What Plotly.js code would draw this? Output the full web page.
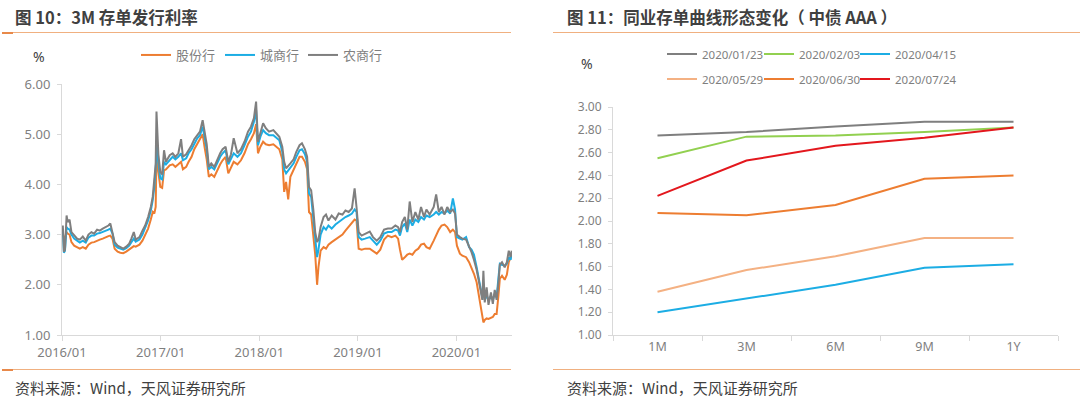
<!DOCTYPE html>
<html><head><meta charset="utf-8">
<script src="https://cdn.plot.ly/plotly-3.0.1.min.js"></script>
<style>html,body{margin:0;padding:0;background:#fff;}#chart{width:1080px;height:399px;}</style>
</head><body><div id="chart"></div>
<script>
// ---------- Left chart: 3M NCD issuance rates ----------
const dates = ['2016-01-04','2016-01-08','2016-01-12','2016-01-18','2016-01-22','2016-01-29','2016-02-05','2016-02-15','2016-02-26','2016-03-07','2016-03-18','2016-03-29','2016-04-08','2016-04-19','2016-04-29','2016-05-10','2016-05-20','2016-05-31','2016-06-10','2016-06-21','2016-06-28','2016-07-06','2016-07-14','2016-07-25','2016-08-04','2016-08-15','2016-08-26','2016-09-06','2016-09-14','2016-09-23','2016-09-30','2016-10-14','2016-10-25','2016-11-04','2016-11-15','2016-11-25','2016-12-02','2016-12-08','2016-12-13','2016-12-16','2016-12-19','2016-12-23','2016-12-30','2017-01-06','2017-01-13','2017-01-20','2017-02-03','2017-02-14','2017-02-24','2017-03-07','2017-03-17','2017-03-24','2017-04-05','2017-04-14','2017-04-25','2017-05-05','2017-05-16','2017-05-26','2017-06-05','2017-06-12','2017-06-20','2017-06-28','2017-07-07','2017-07-18','2017-07-28','2017-08-09','2017-08-18','2017-08-29','2017-09-08','2017-09-18','2017-09-28','2017-10-12','2017-10-25','2017-11-07','2017-11-20','2017-12-01','2017-12-12','2017-12-20','2017-12-27','2018-01-05','2018-01-15','2018-01-25','2018-02-06','2018-02-22','2018-03-06','2018-03-16','2018-03-27','2018-04-03','2018-04-10','2018-04-18','2018-04-26','2018-05-08','2018-05-18','2018-05-30','2018-06-08','2018-06-19','2018-06-27','2018-07-04','2018-07-12','2018-07-20','2018-07-27','2018-08-03','2018-08-08','2018-08-16','2018-08-27','2018-09-05','2018-09-14','2018-09-26','2018-10-10','2018-10-22','2018-11-05','2018-11-16','2018-11-28','2018-12-10','2018-12-20','2018-12-27','2019-01-04','2019-01-15','2019-01-28','2019-02-14','2019-02-26','2019-03-12','2019-03-25','2019-04-08','2019-04-22','2019-05-06','2019-05-20','2019-05-30','2019-06-06','2019-06-14','2019-06-24','2019-07-03','2019-07-12','2019-07-22','2019-08-02','2019-08-13','2019-08-23','2019-09-03','2019-09-12','2019-09-24','2019-10-09','2019-10-18','2019-10-28','2019-11-07','2019-11-18','2019-11-28','2019-12-09','2019-12-19','2019-12-27','2020-01-03','2020-01-14','2020-01-23','2020-02-06','2020-02-17','2020-02-26','2020-03-06','2020-03-16','2020-03-24','2020-03-31','2020-04-06','2020-04-10','2020-04-15','2020-04-22','2020-04-29','2020-05-08','2020-05-15','2020-05-22','2020-05-29','2020-06-05','2020-06-10','2020-06-18','2020-06-28','2020-07-06','2020-07-13','2020-07-20','2020-07-24'];
// 农商行
const nsh = [3.18,2.66,2.70,3.38,3.25,3.30,3.05,2.98,2.92,2.90,2.96,2.88,3.00,3.05,3.02,3.10,3.08,3.12,3.15,3.18,3.22,3.05,2.85,2.78,2.75,2.72,2.76,2.82,2.92,3.05,2.90,2.95,3.08,3.18,3.35,3.55,3.75,4.05,4.40,5.45,5.00,4.60,4.25,4.20,4.68,4.45,4.58,4.62,4.55,4.62,4.90,4.55,4.60,4.68,4.78,4.90,4.98,5.05,5.28,5.05,4.80,4.35,4.42,4.35,4.48,4.62,4.70,4.75,4.45,4.60,4.92,4.62,4.70,4.85,5.05,5.15,5.32,5.65,4.85,5.05,5.22,5.12,5.05,5.08,5.00,4.95,4.75,4.45,4.32,4.38,4.42,4.50,4.65,4.78,4.82,4.70,4.55,3.95,3.88,3.50,3.05,2.85,2.90,3.15,3.35,3.40,3.28,3.38,3.30,3.42,3.40,3.48,3.45,3.52,3.92,3.55,3.05,2.98,3.02,3.06,2.95,2.88,2.95,3.10,3.12,3.12,3.18,3.15,3.05,3.25,3.35,3.10,3.66,3.25,3.45,3.30,3.55,3.35,3.50,3.40,3.55,3.80,3.45,3.55,3.40,3.55,3.45,3.50,3.42,3.00,2.95,2.92,2.90,2.78,2.65,2.50,2.30,2.08,1.85,1.70,2.28,1.65,1.95,1.60,1.85,1.62,1.90,1.70,2.05,2.40,2.45,2.35,2.45,2.68,2.55,2.68];
// 城商行
const csh = [3.12,2.64,2.68,3.15,3.12,3.10,3.00,2.92,2.88,2.84,2.88,2.84,2.94,2.98,2.98,3.02,3.03,3.05,3.08,3.10,3.12,3.02,2.80,2.74,2.72,2.70,2.73,2.78,2.85,2.92,2.86,2.90,3.00,3.12,3.28,3.48,3.68,3.95,4.30,4.65,4.80,4.45,4.12,4.10,4.45,4.40,4.48,4.55,4.50,4.55,4.62,4.48,4.52,4.62,4.70,4.82,4.92,4.98,5.15,4.95,4.70,4.30,4.35,4.30,4.42,4.55,4.62,4.68,4.40,4.52,4.62,4.55,4.62,4.78,4.95,5.05,5.25,5.48,4.78,4.95,5.08,5.02,4.98,4.98,4.92,4.88,4.65,4.30,4.22,4.28,4.35,4.42,4.55,4.68,4.70,4.60,4.45,3.82,3.75,3.35,2.90,2.55,2.70,3.00,3.15,3.10,3.18,3.12,3.20,3.25,3.30,3.35,3.38,3.42,3.50,3.45,2.95,2.90,2.92,2.95,2.88,2.80,2.88,3.02,3.05,3.05,3.10,3.08,2.98,3.15,3.22,3.05,3.30,3.18,3.30,3.25,3.35,3.30,3.38,3.35,3.40,3.45,3.40,3.45,3.42,3.48,3.42,3.72,3.50,2.95,2.92,2.90,2.95,2.75,2.70,2.60,2.35,2.12,1.95,1.75,1.85,1.70,1.80,1.68,1.78,1.70,1.82,1.75,2.15,2.42,2.40,2.38,2.42,2.55,2.50,2.62];
// 股份行
const gfh = [3.02,2.92,2.88,3.05,3.02,3.00,2.85,2.78,2.74,2.72,2.75,2.72,2.80,2.84,2.85,2.88,2.90,2.92,2.95,2.97,2.98,2.92,2.72,2.66,2.64,2.63,2.66,2.70,2.74,2.77,2.76,2.80,2.88,2.98,3.12,3.30,3.45,3.42,3.55,4.55,4.40,4.20,3.95,3.93,4.28,4.30,4.38,4.40,4.35,4.40,4.45,4.30,4.35,4.45,4.55,4.70,4.80,4.88,5.00,4.75,4.50,4.15,4.20,4.15,4.28,4.40,4.48,4.55,4.22,4.35,4.45,4.40,4.48,4.62,4.80,4.90,5.02,5.20,4.62,4.75,4.85,4.80,4.78,4.80,4.75,4.70,4.50,3.85,4.05,3.70,4.15,4.30,4.42,4.55,4.55,4.45,4.30,3.45,3.40,3.00,2.60,2.00,2.35,2.68,2.75,2.72,2.80,2.85,2.90,2.95,3.00,3.08,3.15,3.22,3.30,3.28,2.72,2.70,2.72,2.72,2.68,2.62,2.70,2.90,2.98,2.95,2.98,2.92,2.70,2.50,2.55,2.60,2.62,2.60,2.68,2.72,2.80,2.82,2.75,2.72,2.88,3.00,3.10,3.18,3.20,3.15,3.05,3.10,3.05,2.78,2.62,2.58,2.55,2.45,2.35,2.22,2.05,1.82,1.55,1.38,1.25,1.30,1.33,1.32,1.35,1.36,1.42,1.42,1.80,2.12,2.18,2.10,2.20,2.45,2.55,2.60];

// ---------- Right chart: NCD curve (ChinaBond AAA) ----------
const tenors = ['1M','3M','6M','9M','1Y'];
const curveNames = ['2020/01/23','2020/02/03','2020/04/15','2020/05/29','2020/06/30','2020/07/24'];
const c20200123 = [2.75,2.78,2.83,2.87,2.87];
const c20200203 = [2.55,2.74,2.75,2.78,2.82];
const c20200415 = [1.20,1.32,1.44,1.59,1.62];
const c20200529 = [1.38,1.57,1.69,1.85,1.85];
const c20200630 = [2.07,2.05,2.14,2.37,2.40];
const c20200724 = [2.22,2.53,2.66,2.73,2.82];

const W = 1080, H = 399;
const px = v => v / W, py = v => 1 - v / H;
const FONT = 'Noto Sans, Noto Sans CJK SC, sans-serif';
const CJK = 'Noto Sans CJK SC, sans-serif';
const TICK = '#7f7f7f';
const AXIS = '#d9d9d9';

const leftNames = ['股份行','城商行','农商行'];
const leftSeries = [gfh, csh, nsh];
const leftColors = ['#ED7D31','#1CADE4','#7F7F7F'];
const curveSeries = [c20200123, c20200203, c20200415, c20200529, c20200630, c20200724];
const curveColors = ['#7F7F7F','#92D050','#1CADE4','#F4B183','#ED7D31','#E3171D'];

const legendBase = {orientation:'h', xanchor:'left', yanchor:'middle', bgcolor:'rgba(0,0,0,0)',
  borderwidth:0, itemclick:false, itemdoubleclick:false};

const traces = [];
const legends = {};
let lid = 1;
const legendKey = n => n === 1 ? 'legend' : 'legend' + n;

// left legend text starts at x = 176, 260, 343 ; y = 55
const leftLegendX = [176, 260, 343];
leftSeries.forEach((ys, i) => {
  const key = legendKey(lid++);
  traces.push({x:dates, y:ys, name:leftNames[i], type:'scatter', mode:'lines',
    line:{color:leftColors[i], width:2}, xaxis:'x', yaxis:'y', legend:key});
  legends[key] = Object.assign({}, legendBase, {x:px(leftLegendX[i] - 40), y:py(55),
    font:{family:CJK, size:13, color:'#7f7f7f'}});
});
// right legend: two rows of three
const rightLegendX = [702, 799, 895];
const rightLegendY = [54, 79];
curveSeries.forEach((ys, i) => {
  const key = legendKey(lid++);
  traces.push({x:tenors, y:ys, name:curveNames[i], type:'scatter', mode:'lines',
    line:{color:curveColors[i], width:2}, xaxis:'x2', yaxis:'y2', legend:key});
  legends[key] = Object.assign({}, legendBase, {x:px(rightLegendX[i % 3] - 40), y:py(rightLegendY[Math.floor(i / 3)]),
    font:{family:FONT, size:11.5, color:'#7f7f7f'}});
});

const layout = Object.assign({
  width: W, height: H,
  margin:{l:0, r:0, t:0, b:0},
  paper_bgcolor:'#ffffff', plot_bgcolor:'#ffffff',
  font:{family:FONT, color:TICK},
  showlegend:true,
  xaxis:{domain:[px(62), px(512)], anchor:'y', type:'date',
    range:['2016-01-01','2020-07-25'], tick0:'2016-01-01', dtick:'M12', tickformat:'%Y/%m',
    showgrid:false, zeroline:false, showline:true, linecolor:AXIS, linewidth:1,
    ticks:'outside', ticklen:5, tickcolor:AXIS, tickfont:{size:13, color:TICK}},
  yaxis:{domain:[1-335/H, 1-84/H], anchor:'x', range:[1,6], dtick:1, tickformat:'.2f',
    showgrid:false, zeroline:false, showline:true, linecolor:AXIS, linewidth:1,
    ticks:'outside', ticklen:4, tickcolor:AXIS, ticklabelstandoff:4, tickfont:{size:13, color:TICK}},
  xaxis2:{domain:[px(613), px(1058)], anchor:'y2', type:'category', range:[-0.5,4.5],
    tickson:'boundaries', showgrid:false, zeroline:false, showline:true, linecolor:AXIS, linewidth:1,
    ticks:'outside', ticklen:5, tickcolor:AXIS, tickfont:{size:12.5, color:TICK}},
  yaxis2:{domain:[1-335/H, 1-107/H], anchor:'x2', range:[1,3], dtick:0.2, tickformat:'.2f',
    showgrid:false, zeroline:false, showline:true, linecolor:AXIS, linewidth:1,
    ticks:'outside', ticklen:4, tickcolor:AXIS, ticklabelstandoff:4, tickfont:{size:12, color:TICK}},
  shapes:[
    {type:'line', xref:'paper', yref:'paper', x0:px(2), x1:px(511), y0:py(32.5), y1:py(32.5), line:{color:'#F0B080', width:1.2}},
    {type:'line', xref:'paper', yref:'paper', x0:px(2), x1:px(13), y0:py(33), y1:py(33), line:{color:'#E8894A', width:2}},
    {type:'line', xref:'paper', yref:'paper', x0:px(553), x1:px(1080), y0:py(32.5), y1:py(32.5), line:{color:'#F0B080', width:1.2}},
    {type:'line', xref:'paper', yref:'paper', x0:px(2), x1:px(511), y0:py(369.5), y1:py(369.5), line:{color:'#F0B080', width:1.2}},
    {type:'line', xref:'paper', yref:'paper', x0:px(2), x1:px(13), y0:py(370), y1:py(370), line:{color:'#E8894A', width:2}},
    {type:'line', xref:'paper', yref:'paper', x0:px(553), x1:px(1080), y0:py(369.5), y1:py(369.5), line:{color:'#F0B080', width:1.2}}
  ],
  annotations:[
    {text:'<b>图 10：3M 存单发行利率</b>', xref:'paper', yref:'paper', x:px(13), y:py(17), xanchor:'left', yanchor:'middle', showarrow:false, font:{family:CJK, size:16.5, color:'#404040'}},
    {text:'<b>图 11：同业存单曲线形态变化（ 中债 AAA ）</b>', xref:'paper', yref:'paper', x:px(565), y:py(17), xanchor:'left', yanchor:'middle', showarrow:false, font:{family:CJK, size:16.5, color:'#404040'}},
    {text:'%', xref:'paper', yref:'paper', x:px(39), y:py(57), xanchor:'center', yanchor:'middle', showarrow:false, font:{family:FONT, size:14, color:'#404040'}},
    {text:'%', xref:'paper', yref:'paper', x:px(587), y:py(63), xanchor:'center', yanchor:'middle', showarrow:false, font:{family:FONT, size:14, color:'#404040'}},
    {text:'资料来源：Wind，天风证券研究所', xref:'paper', yref:'paper', x:px(13), y:py(387), xanchor:'left', yanchor:'middle', showarrow:false, font:{family:CJK, size:15, color:'#404040'}},
    {text:'资料来源：Wind，天风证券研究所', xref:'paper', yref:'paper', x:px(565), y:py(387), xanchor:'left', yanchor:'middle', showarrow:false, font:{family:CJK, size:15, color:'#404040'}}
  ]
}, legends);

Plotly.newPlot('chart', traces, layout, {staticPlot:true, displayModeBar:false});
</script></body></html>
